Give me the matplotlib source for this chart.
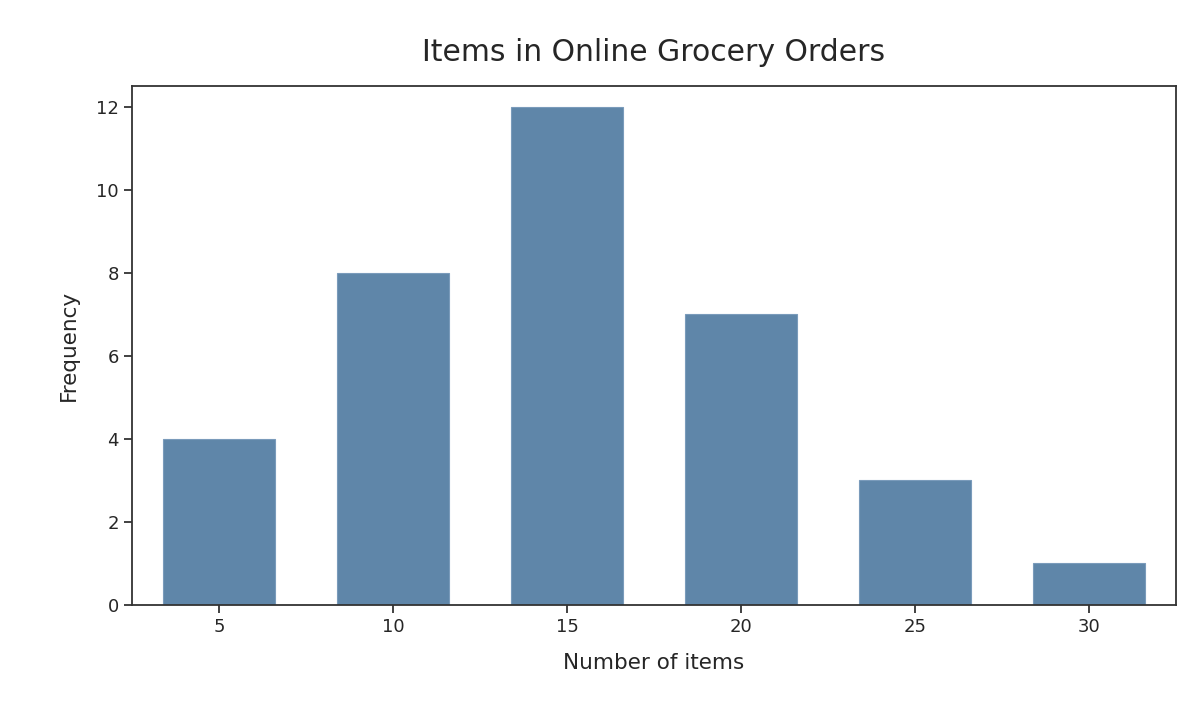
import matplotlib
matplotlib.use('Agg')
import matplotlib.pyplot as plt

items = [5, 10, 15, 20, 25, 30]
freq = [4, 8, 12, 7, 3, 1]

fig = plt.figure(figsize=(12, 7.2), dpi=100)
ax = fig.add_axes([0.11, 0.16, 0.87, 0.72])

ax.bar(items, freq, width=3.2, color='#5f86a9', edgecolor='#7a9bbb', linewidth=0.8)

ax.set_xlim(2.5, 32.5)
ax.set_ylim(0, 12.5)
ax.set_xticks(items)
ax.set_yticks([0, 2, 4, 6, 8, 10, 12])

for s in ax.spines.values():
    s.set_color('#333333')
    s.set_linewidth(1.3)
ax.tick_params(colors='#333333', labelcolor='#262626', labelsize=13, width=1.3, length=6)

ax.set_title('Items in Online Grocery Orders', fontsize=21.5, color='#262626', pad=18)
ax.set_xlabel('Number of items', fontsize=15.5, color='#262626', labelpad=12)
ax.set_ylabel('Frequency', fontsize=15.5, color='#262626', labelpad=12)

fig.savefig('out.png', dpi=100)
